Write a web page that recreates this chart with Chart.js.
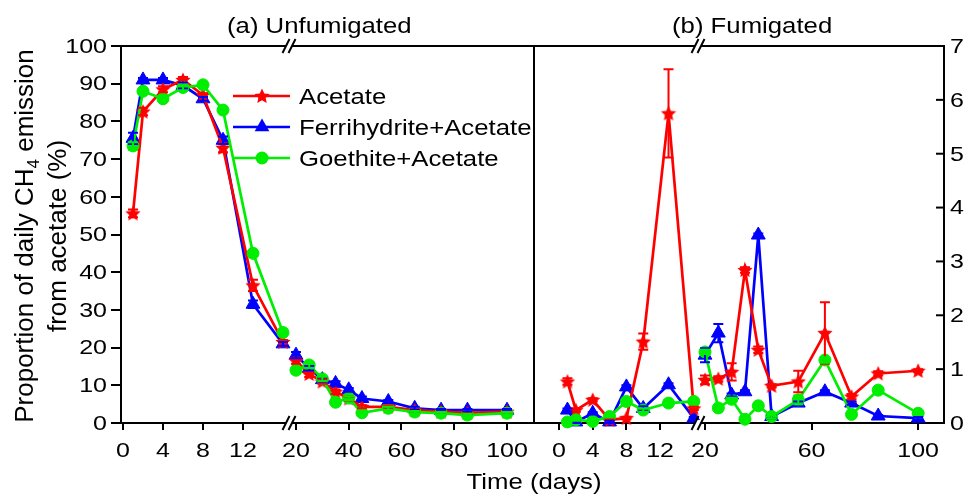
<!DOCTYPE html>
<html><head><meta charset="utf-8">
<script src="https://cdn.jsdelivr.net/npm/chart.js@4/dist/chart.umd.min.js"></script>
<style>html,body{margin:0;padding:0;background:#fff}#wrap{width:968px;height:497px;position:relative}</style>
</head><body><div id="wrap"><canvas id="c" width="968" height="497"></canvas></div>
<script>
// ---- data ----
const daysEarly = [1, 2, 4, 6, 8, 10, 13, 16];
const daysLate = [20, 25, 30, 35, 40, 45, 55, 65, 75, 85, 100];
const seriesNames = ['Acetate', 'Ferrihydrite+Acetate', 'Goethite+Acetate'];
const panelTitles = ['(a) Unfumigated', '(b) Fumigated'];

// Panel (a) Unfumigated, left axis (%)
const acetateA_early = [55.6, 82.6, 88.5, 91.0, 87.0, 73.0, 36.5, 21.5];
const ferriA_early   = [75.5, 91.0, 91.0, 89.5, 86.0, 75.0, 31.5, 21.0];
const goethA_early   = [73.5, 88.0, 86.0, 89.0, 89.7, 83.0, 45.0, 24.0];
const acetateA_late  = [16.5, 13.0, 11.0, 8.3, 6.5, 4.3, 4.3, 3.4, 3.0, 2.7, 3.0];
const ferriA_late    = [18.0, 14.5, 11.5, 10.5, 8.8, 6.5, 5.7, 3.9, 3.4, 3.4, 3.4];
const goethA_late    = [14.0, 15.4, 11.7, 5.5, 6.6, 2.7, 3.9, 2.9, 2.6, 2.1, 2.6];
const acetateA_early_err = [1.0, 1.0, 0.8, 0.8, 0.5, 1.2, 1.5, 0.5];
const ferriA_early_err   = [1.5, 0.5, 0.5, 0.8, 0.5, 1.0, 1.0, 0.5];
const goethA_early_err   = [1.0, 0.5, 0.5, 0.8, 0.5, 0.5, 0.5, 0.5];
const acetateA_late_err  = [0.8, 0.8, 0.6, 0.6, 0.5, 0.4, 0.4, 0.4, 0.3, 0.3, 0.3];
const ferriA_late_err    = [0.8, 0.6, 0.6, 0.6, 0.5, 0.5, 0.4, 0.4, 0.3, 0.3, 0.3];
const goethA_late_err    = [0.8, 0.8, 0.6, 0.5, 0.5, 0.4, 0.4, 0.3, 0.3, 0.3, 0.3];

// Panel (b) Fumigated, right axis
const acetateB_early = [0.77, 0.24, 0.43, 0.06, 0.09, 1.51, 5.75, 0.27];
const ferriB_early   = [0.24, 0.02, 0.18, 0.02, 0.67, 0.27, 0.71, 0.09];
const goethB_early   = [0.02, 0.06, 0.03, 0.12, 0.40, 0.24, 0.37, 0.40];
const acetateB_late  = [0.80, 0.82, 0.95, 2.84, 1.36, 0.69, 0.77, 1.67, 0.49, 0.92, 0.97];
const ferriB_late    = [1.26, 1.67, 0.52, 0.58, 3.49, 0.12, 0.37, 0.58, 0.37, 0.13, 0.09];
const goethB_late    = [1.32, 0.28, 0.44, 0.07, 0.32, 0.12, 0.43, 1.17, 0.16, 0.61, 0.18];
const acetateB_early_err = [0.06, 0.03, 0.03, 0.02, 0.02, 0.15, 0.82, 0.03];
const ferriB_early_err   = [0.03, 0.02, 0.02, 0.02, 0.03, 0.04, 0.03, 0.02];
const goethB_early_err   = [0.02, 0.02, 0.02, 0.02, 0.02, 0.03, 0.02, 0.02];
const acetateB_late_err  = [0.08, 0.05, 0.16, 0.05, 0.06, 0.03, 0.2, 0.57, 0.05, 0.04, 0.03];
const ferriB_late_err    = [0.13, 0.17, 0.03, 0.03, 0.03, 0.03, 0.03, 0.03, 0.03, 0.02, 0.02];
const goethB_late_err    = [0.04, 0.02, 0.03, 0.02, 0.02, 0.03, 0.08, 0.05, 0.03, 0.03, 0.03];

const ticksX1 = [0, 4, 8, 12];
const ticksX2 = [20, 40, 60, 80, 100];
const ticksX3 = [0, 4, 8, 12];
const ticksX4 = [20, 60, 100];
const ticksYL = [0, 10, 20, 30, 40, 50, 60, 70, 80, 90, 100];
const ticksYR = [0, 1, 2, 3, 4, 5, 6, 7];

// ---- styling ----
const FONT = "'Liberation Sans', Arial, sans-serif";
const SX = 1.17;
const colors = ['#ff0000', '#0000ff', '#00ee00'];

function makeStar(R, color) {
  const s = Math.ceil(R * 2 + 2);
  const c = document.createElement('canvas'); c.width = s; c.height = s;
  const g = c.getContext('2d'); g.fillStyle = color; g.beginPath();
  const r = R * 0.48;
  for (let i = 0; i < 10; i++) {
    const a = -Math.PI / 2 + i * Math.PI / 5; const rr = i % 2 ? r : R;
    g.lineTo(s / 2 + rr * Math.cos(a), s / 2 + 0.5 + rr * Math.sin(a));
  }
  g.closePath(); g.fill();
  return c;
}
const star = makeStar(8, colors[0]);
const pointStyles = [star, 'triangle', 'circle'];
const pointRadii = [8, 8, 6];

const pts = (days, vals) => days.map((d, i) => ({x: d, y: vals[i]}));
const groups = [
  [[acetateA_early, acetateA_early_err], [acetateA_late, acetateA_late_err], [acetateB_early, acetateB_early_err], [acetateB_late, acetateB_late_err]],
  [[ferriA_early, ferriA_early_err], [ferriA_late, ferriA_late_err], [ferriB_early, ferriB_early_err], [ferriB_late, ferriB_late_err]],
  [[goethA_early, goethA_early_err], [goethA_late, goethA_late_err], [goethB_early, goethB_early_err], [goethB_late, goethB_late_err]]
];
const segAxes = [['x1', 'y'], ['x2', 'y'], ['x3', 'yR'], ['x4', 'yR']];
const segDays = [daysEarly, daysLate, daysEarly, daysLate];
const drawOrder = [1, 2, 0];

const datasets = [];
groups.forEach((g, s) => {
  g.forEach((seg, k) => {
    datasets.push({
      label: seriesNames[s],
      data: pts(segDays[k], seg[0]),
      errs: seg[1],
      xAxisID: segAxes[k][0], yAxisID: segAxes[k][1],
      borderColor: colors[s], backgroundColor: colors[s],
      borderWidth: 2.7,
      pointStyle: pointStyles[s], pointRadius: pointRadii[s], pointHoverRadius: pointRadii[s],
      pointBorderWidth: 1, pointBorderColor: colors[s], pointBackgroundColor: colors[s],
      tension: 0, clip: false, order: drawOrder[s]
    });
  });
});

function xAxis(min, max, weight, tickList) {
  return {
    type: 'linear', position: 'bottom', stack: 'time', stackWeight: weight,
    min: min, max: max,
    afterBuildTicks: s => { s.ticks = tickList.map(v => ({value: v})); },
    afterFit: s => { s.height = 74; },
    ticks: {display: false},
    grid: {drawOnChartArea: false, drawTicks: true, tickLength: 7, color: '#000', lineWidth: 2},
    border: {display: true, color: '#000', width: 2}
  };
}

function txt(ctx, s, x, y, align, size, sx, baseline) {
  ctx.save();
  ctx.translate(x, y); ctx.scale(sx, 1);
  ctx.font = size + 'px ' + FONT; ctx.fillStyle = '#000';
  ctx.textAlign = align; ctx.textBaseline = baseline || 'alphabetic';
  ctx.fillText(s, 0, 0);
  ctx.restore();
}

function breakMark(ctx, x, y) {
  ctx.save();
  ctx.fillStyle = '#fff';
  ctx.fillRect(x - 3, y - 3, 6, 6);
  ctx.strokeStyle = '#000'; ctx.lineWidth = 2;
  [-3, 3].forEach(o => {
    ctx.beginPath();
    ctx.moveTo(x + o - 3.5, y + 7); ctx.lineTo(x + o + 3.5, y - 7); ctx.stroke();
  });
  ctx.restore();
}

const decor = {
  id: 'decor',
  beforeDraw(chart) {
    const c = chart.ctx; c.save(); c.fillStyle = '#fff'; c.fillRect(0, 0, chart.width, chart.height); c.restore();
  },
  afterDatasetsDraw(chart) {
    const ctx = chart.ctx;
    chart.data.datasets.forEach((ds, i) => {
      const xs = chart.scales[ds.xAxisID], ys = chart.scales[ds.yAxisID];
      ctx.save(); ctx.strokeStyle = ds.borderColor; ctx.lineWidth = 2;
      ds.data.forEach((p, j) => {
        const e = ds.errs[j]; if (!e) return;
        const x = xs.getPixelForValue(p.x);
        const y1 = ys.getPixelForValue(p.y + e), y2 = ys.getPixelForValue(Math.max(0, p.y - e));
        ctx.beginPath();
        ctx.moveTo(x, y1); ctx.lineTo(x, y2);
        ctx.moveTo(x - 5, y1); ctx.lineTo(x + 5, y1);
        ctx.moveTo(x - 5, y2); ctx.lineTo(x + 5, y2);
        ctx.stroke();
      });
      ctx.restore();
    });
  },
  afterDraw(chart) {
    const ctx = chart.ctx, a = chart.chartArea, sc = chart.scales;
    ctx.save();
    ctx.strokeStyle = '#000'; ctx.lineWidth = 2;
    // top border
    ctx.beginPath(); ctx.moveTo(a.left, a.top); ctx.lineTo(a.right, a.top); ctx.stroke();
    // panel separator
    const sepX = Math.round(sc.x2.right);
    ctx.beginPath(); ctx.moveTo(sepX, a.top); ctx.lineTo(sepX, a.bottom); ctx.stroke();
    // inward right ticks
    ticksYR.forEach(v => {
      const y = sc.yR.getPixelForValue(v);
      ctx.beginPath(); ctx.moveTo(a.right - 8, y); ctx.lineTo(a.right, y); ctx.stroke();
    });
    ctx.restore();
    // break marks
    [sc.x1.right, sc.x3.right].forEach(bx => {
      breakMark(ctx, bx, a.top);
      breakMark(ctx, bx, a.bottom);
    });
    // tick labels
    const tf = 21, tsx = 1.19;
    ticksYL.forEach(v => txt(ctx, String(v), 107, sc.y.getPixelForValue(v) + 1, 'right', tf, tsx, 'middle'));
    ticksYR.forEach(v => txt(ctx, String(v), 950, sc.yR.getPixelForValue(v) + 1, 'left', tf, tsx, 'middle'));
    [['x1', ticksX1], ['x2', ticksX2], ['x3', ticksX3], ['x4', ticksX4]].forEach(([id, list]) => {
      list.forEach(v => txt(ctx, String(v), sc[id].getPixelForValue(v), 457, 'center', tf, tsx));
    });
    // titles
    txt(ctx, panelTitles[0], 227, 33, 'left', 22, SX);
    txt(ctx, panelTitles[1], 672, 33, 'left', 22, SX);
    txt(ctx, 'Time (days)', 534, 489, 'center', 22, SX);
    // y title (rotated, with subscript)
    ctx.save();
    const fs = 26;
    ctx.fillStyle = '#000';
    ctx.translate(33, 236); ctx.rotate(-Math.PI / 2);
    ctx.font = fs + 'px ' + FONT;
    const p1 = 'Proportion of daily CH', p2 = '4', p3 = ' emission';
    const w1 = ctx.measureText(p1).width, w3 = ctx.measureText(p3).width;
    ctx.font = (fs * 0.65) + 'px ' + FONT;
    const w2 = ctx.measureText(p2).width;
    let x0 = -(w1 + w2 + w3) / 2;
    ctx.textAlign = 'left';
    ctx.font = fs + 'px ' + FONT; ctx.fillText(p1, x0, 0);
    ctx.font = (fs * 0.65) + 'px ' + FONT; ctx.fillText(p2, x0 + w1, 6);
    ctx.font = fs + 'px ' + FONT; ctx.fillText(p3, x0 + w1 + w2, 0);
    ctx.textAlign = 'center';
    ctx.fillText('from acetate (%)', 0, 33);
    ctx.restore();
    // legend
    const rows = [96, 127, 158];
    seriesNames.forEach((name, s) => {
      const y = rows[s];
      ctx.save();
      ctx.strokeStyle = colors[s]; ctx.fillStyle = colors[s]; ctx.lineWidth = 2.7;
      ctx.beginPath(); ctx.moveTo(233, y); ctx.lineTo(290, y); ctx.stroke();
      const cx = 262;
      if (s === 0) ctx.drawImage(star, cx - star.width / 2, y - star.height / 2);
      else if (s === 1) {
        const r = 8.5; ctx.beginPath();
        for (let k = 0; k < 3; k++) { const ang = k * 2 * Math.PI / 3; ctx.lineTo(cx + Math.sin(ang) * r, y - Math.cos(ang) * r); }
        ctx.closePath(); ctx.fill();
      } else { ctx.beginPath(); ctx.arc(cx, y, 6.5, 0, Math.PI * 2); ctx.fill(); }
      ctx.restore();
      txt(ctx, name, 299, y + 7.5, 'left', 22, SX);
    });
  }
};

new Chart(document.getElementById('c'), {
  type: 'line',
  data: {datasets: datasets},
  options: {
    responsive: false, animation: false, devicePixelRatio: 1,
    layout: {padding: {top: 46, left: 0, right: 0, bottom: 0}},
    plugins: {legend: {display: false}, title: {display: false}, tooltip: {enabled: false}},
    scales: {
      x1: xAxis(-0.2, 16.6, 168, ticksX1),
      x2: xAxis(17.35, 110.24, 245, ticksX2),
      x3: xAxis(-2.97, 16.5, 164, ticksX3),
      x4: xAxis(17.37, 109.7, 246, ticksX4),
      y: {
        type: 'linear', position: 'left', min: 0, max: 100,
        afterBuildTicks: s => { s.ticks = ticksYL.map(v => ({value: v})); },
        afterFit: s => { s.width = 121; },
        ticks: {display: false},
        grid: {drawOnChartArea: false, drawTicks: true, tickLength: 10, color: '#000', lineWidth: 2},
        border: {display: true, color: '#000', width: 2}
      },
      yR: {
        type: 'linear', position: 'right', min: 0, max: 7,
        afterBuildTicks: s => { s.ticks = ticksYR.map(v => ({value: v})); },
        afterFit: s => { s.width = 24; },
        ticks: {display: false},
        grid: {drawOnChartArea: false, drawTicks: false},
        border: {display: true, color: '#000', width: 2}
      }
    }
  },
  plugins: [decor]
});
</script></body></html>
